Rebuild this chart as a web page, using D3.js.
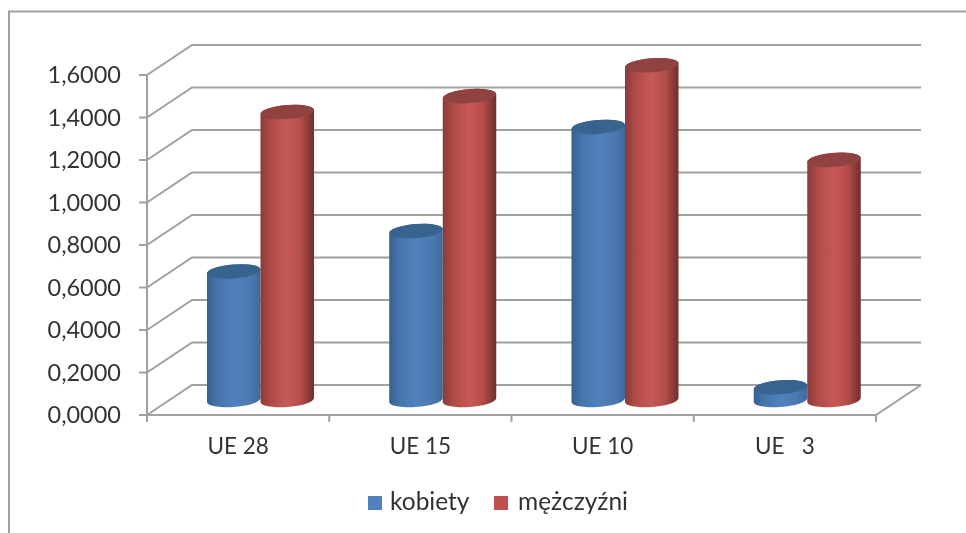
<!DOCTYPE html>
<html><head><meta charset="utf-8">
<script src="https://cdn.jsdelivr.net/npm/d3@7"></script>
<style>html,body{margin:0;background:#fff}svg{display:block}text{font-family:Lato,"Open Sans",sans-serif;fill:#333}</style>
</head><body><svg id="c" width="966" height="533"></svg>
<script>
const categories = ["UE 28", "UE 15", "UE 10", "UE\u00a0\u00a0\u00a03"];
const seriesNames = ["kobiety", "mężczyźni"];
const kobiety = [0.605, 0.795, 1.285, 0.06];
const mezczyzni = [1.355, 1.43, 1.575, 1.13];
const yTicks = [0, 0.2, 0.4, 0.6, 0.8, 1.0, 1.2, 1.4, 1.6];
const yLabels = ["0,0000", "0,2000", "0,4000", "0,6000", "0,8000", "1,0000", "1,2000", "1,4000", "1,6000"];
const seriesValues = [kobiety, mezczyzni];

const root = d3.select("#c");
const defs = root.append("defs");
defs.append("filter").attr("id", "soft").attr("filterUnits", "userSpaceOnUse")
  .attr("x", 0).attr("y", 0).attr("width", 966).attr("height", 533)
  .append("feGaussianBlur").attr("stdDeviation", 0.6);
const svg = root.append("g").attr("filter", "url(#soft)");
const x0 = d3.scaleBand().domain(categories).range([147, 876]);
const y = d3.scaleLinear().domain([0, 1.6]).range([415, 75]);
const x1 = d3.scaleBand().domain(seriesNames).range([37.5, 144.5]);
const depthX = 45, depthY = -30;
const tilt = -4.5 * Math.PI / 180;
const gridColor = "#a0a0a0";

// frame
svg.append("path").attr("d", "M9,533V11.5H966").attr("fill", "none").attr("stroke", "#a0a0a0").attr("stroke-width", 2);

// gradients
const grads = [
  ["g0", [[0, "#35608f"], [0.18, "#4674aa"], [0.5, "#4f81bd"], [0.8, "#4b79b0"], [1, "#3f6a9d"]]],
  ["g1", [[0, "#8a3b39"], [0.2, "#b14b48"], [0.5, "#c65a57"], [0.75, "#b54d4a"], [1, "#6e2f2d"]]]
];
grads.forEach(([id, stops]) => {
  const g = defs.append("linearGradient").attr("id", id);
  stops.forEach(s => g.append("stop").attr("offset", s[0]).attr("stop-color", s[1]));
});
const capColors = ["#38648f", "#8f4240"];

// back wall, gridlines, side wall
const grid = svg.append("g").attr("fill", "none").attr("stroke", gridColor).attr("stroke-width", 2);
yTicks.forEach(t => {
  const py = y(t);
  grid.append("path").attr("d", d3.line()([[147, py], [147 + depthX, py + depthY], [x0.range()[1] + depthX, py + depthY]]));
});
// floor front edge and y axis
grid.append("path").attr("d", d3.line()([[147, y(0)], [876, y(0)], [876 + depthX, y(0) + depthY]]));
grid.append("path").attr("d", d3.line()([[147, y(1.6)], [147, y(0)]]));
// ticks
yTicks.forEach(t => grid.append("path").attr("d", d3.line()([[139, y(t)], [147, y(t)]])));
[...categories.map(c => x0(c)), 876].forEach(px => grid.append("path").attr("d", d3.line()([[px, y(0)], [px, y(0) + 7]])));

// labels
svg.append("g").selectAll("text").data(yTicks).join("text")
  .attr("x", 121).attr("y", d => y(d) + 8).attr("text-anchor", "end")
  .attr("font-size", 23.5).text((d, i) => yLabels[i]);
svg.append("g").selectAll("text").data(categories).join("text")
  .attr("x", d => x0(d) + x0.bandwidth() / 2).attr("y", 453.5).attr("text-anchor", "middle")
  .attr("font-size", 22.5).text(d => d);

// cylinders
const bars = svg.append("g");
categories.forEach((c, i) => {
  seriesNames.forEach((s, j) => {
    const v = seriesValues[j][i];
    const w = x1.bandwidth(), rx = w / 2, ry = 7;
    const cx = x0(c) + x1(s) + depthX / 2 + rx;
    const yb = y(0) + depthY / 2, yt = y(v) + depthY / 2;
    const ex = rx, ey = rx * Math.sin(-tilt) * 0.9;
    const deg = tilt * 180 / Math.PI;
    bars.append("path")
      .attr("d", `M${cx - ex},${yt + ey}L${cx - ex},${yb + ey}A${rx},${ry} ${deg} 0 0 ${cx + ex},${yb - ey}L${cx + ex},${yt - ey}A${rx},${ry} ${deg} 0 0 ${cx - ex},${yt + ey}Z`)
      .attr("fill", `url(#g${j})`);
    bars.append("ellipse")
      .attr("cx", cx).attr("cy", yt).attr("rx", rx).attr("ry", ry)
      .attr("transform", `rotate(${deg} ${cx} ${yt})`)
      .attr("fill", capColors[j]);
  });
});

// legend
const legendX = [368, 494], legendTextX = [390, 518];
const lg = svg.append("g");
seriesNames.forEach((s, j) => {
  lg.append("rect").attr("x", legendX[j]).attr("y", 496).attr("width", 14).attr("height", 14).attr("fill", ["#4f81bd", "#c0504d"][j]);
  lg.append("text").attr("x", legendTextX[j]).attr("y", 510).attr("font-size", 24.5).text(s);
});
</script></body></html>
